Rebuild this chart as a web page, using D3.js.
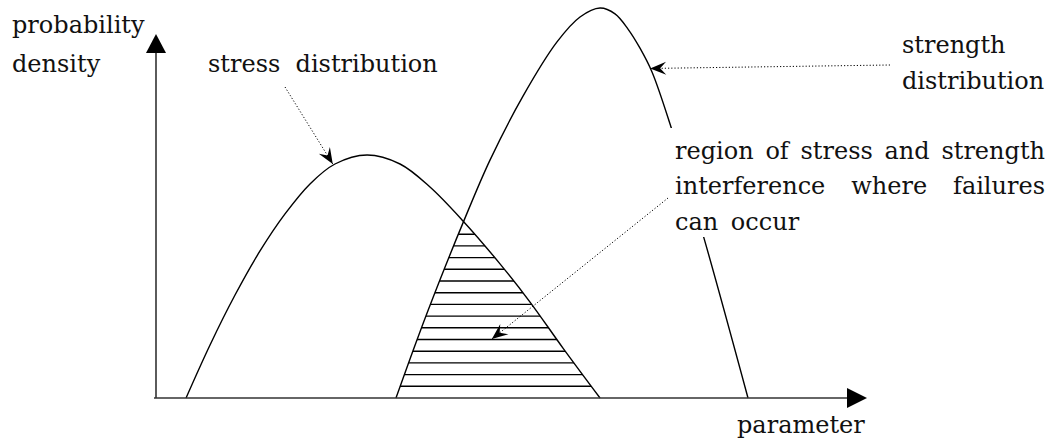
<!DOCTYPE html>
<html>
<head>
<meta charset="utf-8">
<script src="https://cdn.jsdelivr.net/npm/d3@7"></script>
<style>
  body { margin: 0; background: #fff; }
  svg text { font-family: "DejaVu Serif", serif; font-size: 24px; fill: #111; }
</style>
</head>
<body>
<svg id="chart" width="1058" height="439"></svg>
<script>
// curve samples (parameter, probability density)
const stressParam   = [4.23, 7.61, 11.13, 14.65, 18.17, 21.69, 25.21, 29.72, 34.37, 38.59, 43.24, 48.45, 52.68, 57.32, 62.54];
const stressDensity = [0, 0.136, 0.264, 0.377, 0.472, 0.549, 0.600, 0.623, 0.600, 0.541, 0.454, 0.344, 0.246, 0.128, 0];
const strengthParam   = [33.8, 36.9, 40.0, 43.24, 47.04, 51.69, 56.48, 59.72, 62.54, 64.65, 66.48, 68.17, 69.86, 72.39, 77.18, 83.38];
const strengthDensity = [0, 0.156, 0.303, 0.449, 0.610, 0.774, 0.913, 0.977, 1.0, 0.985, 0.946, 0.897, 0.836, 0.703, 0.410, 0];

const axisLabels = ['probability', 'density', 'parameter'];
const annoLabels = ['stress  distribution', 'strength', 'distribution'];
const regionLines = ['region of stress and strength', 'interference where failures', 'can occur'];

const width = 1058, height = 439;
const svg = d3.select('#chart');

const x = d3.scaleLinear().domain([0, 100]).range([156, 866]);
const y = d3.scaleLinear().domain([0, 1]).range([398, 8]);

const stress = stressParam.map((p, i) => ({ p: p, d: stressDensity[i] }));
const strength = strengthParam.map((p, i) => ({ p: p, d: strengthDensity[i] }));

const curve = d3.curveCatmullRom.alpha(0.5);
const line = d3.line().x(d => x(d.p)).y(d => y(d.d)).curve(curve);
const area = d3.area().x(d => x(d.p)).y0(y(0)).y1(d => y(d.d)).curve(curve);

const defs = svg.append('defs');
defs.append('clipPath').attr('id', 'underStress').append('path').attr('d', area(stress));
defs.append('clipPath').attr('id', 'underStrength').append('path').attr('d', area(strength));

// arrow heads
defs.append('marker')
    .attr('id', 'barb')
    .attr('viewBox', '-18 -8 20 16')
    .attr('refX', 0).attr('refY', 0)
    .attr('markerWidth', 20).attr('markerHeight', 16)
    .attr('markerUnits', 'userSpaceOnUse')
    .attr('orient', 'auto')
    .append('path')
    .attr('d', 'M0,0 L-16,-6.5 L-10,0 L-16,6.5 Z')
    .style('fill', '#000');

// hatching in the overlap region
const hatch = svg.append('g').attr('clip-path', 'url(#underStress)')
    .append('g').attr('clip-path', 'url(#underStrength)');
hatch.selectAll('line')
    .data(d3.range(1, 15).map(k => k * 0.03))
    .enter()
    .append('line')
    .attr('x1', x(30)).attr('x2', x(70))
    .attr('y1', d => y(d)).attr('y2', d => y(d))
    .style('stroke', '#000')
    .style('stroke-width', 1.4);

// curves
svg.append('path').attr('d', line(stress))
    .style('fill', 'none').style('stroke', '#000').style('stroke-width', 1.4);
svg.append('path').attr('d', line(strength))
    .style('fill', 'none').style('stroke', '#000').style('stroke-width', 1.4);

// axes with filled arrow heads
const axisColor = '#333';
svg.append('line')
    .attr('x1', x(0)).attr('y1', y(0)).attr('x2', x(0)).attr('y2', 50)
    .style('stroke', axisColor).style('stroke-width', 1.6);
svg.append('path')
    .attr('d', `M${x(0)},34 L${x(0) - 10},53 L${x(0) + 10},53 Z`)
    .style('fill', '#000');
svg.append('line')
    .attr('x1', x(0) - 2).attr('y1', y(0)).attr('x2', 850).attr('y2', y(0))
    .style('stroke', axisColor).style('stroke-width', 1.6);
svg.append('path')
    .attr('d', `M867,${y(0)} L847,${y(0) - 10} L847,${y(0) + 10} Z`)
    .style('fill', '#000');

// white box behind the region text hides part of the strength curve
svg.append('rect')
    .attr('x', 669).attr('y', 128).attr('width', 385).attr('height', 109)
    .style('fill', '#fff');

// text
svg.append('text').attr('x', 12).attr('y', 33).text(axisLabels[0]);
svg.append('text').attr('x', 12).attr('y', 72).text(axisLabels[1]);
svg.append('text').attr('x', 737).attr('y', 433).text(axisLabels[2]);
svg.append('text').attr('x', 208).attr('y', 72).style('white-space', 'pre').text(annoLabels[0]);
svg.append('text').attr('x', 902).attr('y', 53).text(annoLabels[1]);
svg.append('text').attr('x', 902).attr('y', 89).text(annoLabels[2]);

const regionLeft = 675, regionRight = 1045;
const regionBase = [159, 194, 230];
regionLines.forEach((txt, i) => {
    const t = svg.append('text').attr('x', regionLeft).attr('y', regionBase[i]).text(txt);
    const gaps = txt.split(' ').length - 1;
    if (i < 2) {
        const natural = t.node().getComputedTextLength();
        t.style('word-spacing', ((regionRight - regionLeft - natural) / gaps) + 'px');
    } else {
        t.style('word-spacing', '5px');
    }
});

// dotted leader lines pointing at the curves
const leaders = [
    { from: [285, 87], to: [24.9, 0.6] },
    { from: [890, 65], to: [69.6, 0.845] },
    { from: [668, 198], to: [47.3, 0.151] }
];
leaders.forEach(l => {
    svg.append('line')
        .attr('x1', l.from[0]).attr('y1', l.from[1])
        .attr('x2', x(l.to[0])).attr('y2', y(l.to[1]))
        .style('stroke', '#000')
        .style('stroke-width', 1)
        .style('stroke-dasharray', '1.2,2')
        .attr('marker-end', 'url(#barb)');
});
</script>
</body>
</html>
